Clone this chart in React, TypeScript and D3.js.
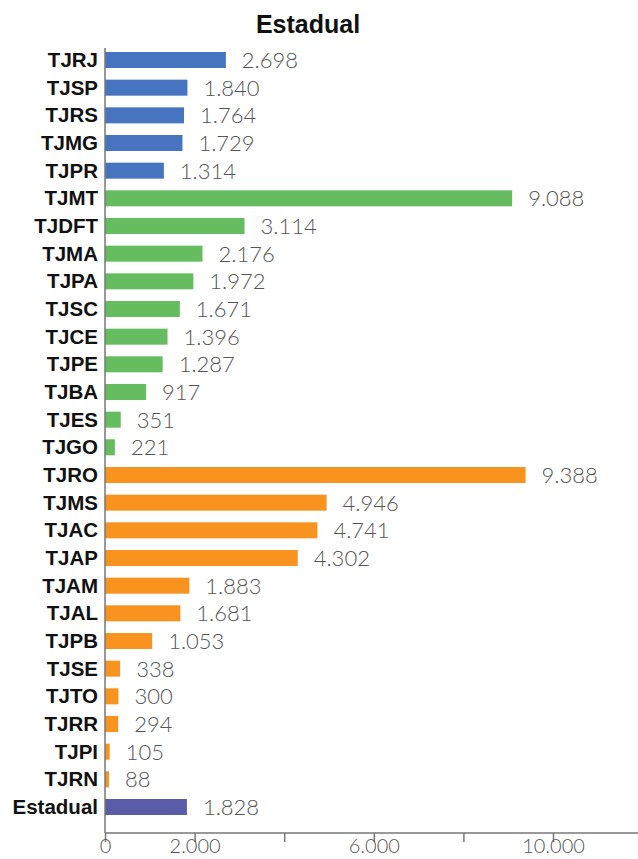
import * as d3 from "d3";
import { useEffect, useRef } from "react";

// Data
const categories = [
  "TJRJ", "TJSP", "TJRS", "TJMG", "TJPR",
  "TJMT", "TJDFT", "TJMA", "TJPA", "TJSC", "TJCE", "TJPE", "TJBA", "TJES", "TJGO",
  "TJRO", "TJMS", "TJAC", "TJAP", "TJAM", "TJAL", "TJPB", "TJSE", "TJTO", "TJRR", "TJPI", "TJRN",
  "Estadual"
];
const values = [
  2698, 1840, 1764, 1729, 1314,
  9088, 3114, 2176, 1972, 1671, 1396, 1287, 917, 351, 221,
  9388, 4946, 4741, 4302, 1883, 1681, 1053, 338, 300, 294, 105, 88,
  1828
];
// porte: grande / médio / pequeno / total
const groups = [
  "g", "g", "g", "g", "g",
  "m", "m", "m", "m", "m", "m", "m", "m", "m", "m",
  "p", "p", "p", "p", "p", "p", "p", "p", "p", "p", "p", "p",
  "t"
];
const groupColors: Record<string, string> = {
  g: "#4674c1",
  m: "#66bd5f",
  p: "#f7931e",
  t: "#5a5ca8"
};
const xTicks = [0, 2000, 4000, 6000, 8000, 10000, 12000];
const xTickLabels = ["0", "2.000", "", "6.000", "", "10.000", ""];

const fmt = (v: number) => d3.format(",")(v).replace(/,/g, ".");

const drawChart = (node: SVGSVGElement) => {
  const width = 638;
  const height = 859;
  const x0 = 105;

  const svg = d3.select(node);
  svg.selectAll("*").remove();

  // 44.8 px per 1.000
  const xScale = d3.scaleLinear().domain([0, 12000]).range([x0, x0 + 44.8 * 12]);

  const yScale = d3.scalePoint<string>().domain(categories).range([60, 807]);
  const barH = 16;

  // Title
  svg.append("text")
    .attr("x", 308)
    .attr("y", 33)
    .attr("text-anchor", "middle")
    .style("font-family", "'Liberation Sans', Arial, sans-serif")
    .style("font-weight", "bold")
    .style("font-size", "25px")
    .style("fill", "#111")
    .text("Estadual");

  const data = categories.map((c, i) => ({ cat: c, val: values[i], grp: groups[i] }));

  // Bars
  svg.append("g")
    .selectAll("rect")
    .data(data)
    .join("rect")
    .attr("x", xScale(0))
    .attr("y", d => (yScale(d.cat) as number) - barH / 2)
    .attr("width", d => xScale(d.val) - xScale(0))
    .attr("height", barH)
    .attr("fill", d => groupColors[d.grp]);

  // Value labels
  svg.append("g")
    .selectAll("text")
    .data(data)
    .join("text")
    .attr("x", d => xScale(d.val) + 16)
    .attr("y", d => (yScale(d.cat) as number) + 8)
    .style("font-family", "Lato, 'Open Sans', sans-serif")
    .style("font-weight", "300")
    .style("font-size", "22px")
    .style("fill", "#555")
    .text(d => fmt(d.val));

  // Category labels
  svg.append("g")
    .selectAll("text")
    .data(data)
    .join("text")
    .attr("x", 98)
    .attr("y", d => (yScale(d.cat) as number) + 7)
    .attr("text-anchor", "end")
    .style("font-family", "'Liberation Sans', Arial, sans-serif")
    .style("font-weight", "bold")
    .style("font-size", "20.5px")
    .style("fill", "#111")
    .text(d => d.cat);

  // Y axis line
  svg.append("line")
    .attr("x1", x0).attr("x2", x0)
    .attr("y1", 48).attr("y2", 833)
    .attr("stroke", "#777")
    .attr("stroke-width", 1.5);

  // X axis
  const xAxis = d3.axisBottom(xScale)
    .tickValues(xTicks)
    .tickSize(9)
    .tickPadding(3)
    .tickFormat((_, i) => xTickLabels[i]);

  const xAxisGroup = svg.append("g")
    .attr("transform", `translate(0, 833)`)
    .call(xAxis);

  xAxisGroup.select(".domain")
    .attr("d", `M${x0},0H${width}`)
    .attr("stroke", "#777")
    .attr("stroke-width", 1.5);
  xAxisGroup.selectAll(".tick line").attr("stroke", "#777").attr("stroke-width", 1.5);
  xAxisGroup.selectAll(".tick text")
    .attr("y", 20)
    .attr("dy", null)
    .style("font-family", "Lato, 'Open Sans', sans-serif")
    .style("font-weight", "300")
    .style("font-size", "20px")
    .style("fill", "#555");

  svg.attr("width", width).attr("height", height);
};

export default function App() {
  const ref = useRef<SVGSVGElement>(null);

  useEffect(() => {
    if (ref.current) drawChart(ref.current);
  }, []);

  return (
    <svg
      ref={ref}
      width={638}
      height={859}
      style={{ position: "absolute", left: 0, top: 0, background: "#fff" }}
    />
  );
}
